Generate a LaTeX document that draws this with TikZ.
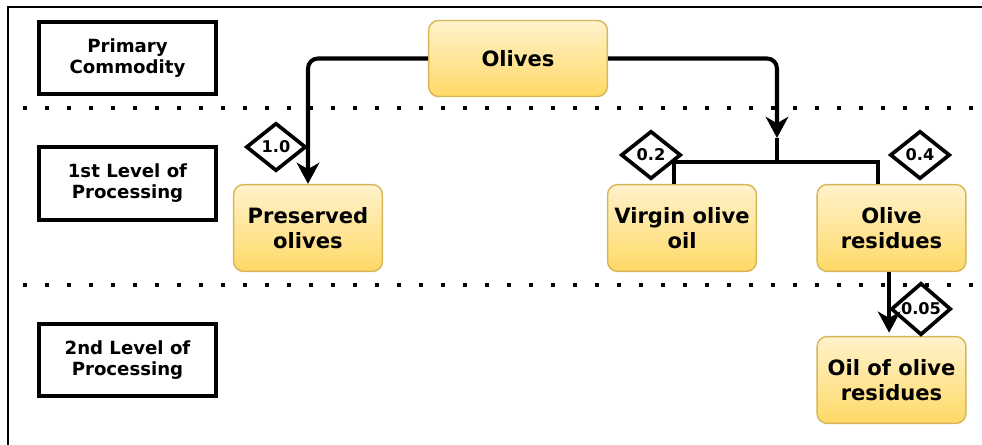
\documentclass[tikz,border=0pt]{standalone}
\usepackage{fontspec}
\setmainfont{DejaVu Sans}
\usepackage{tikz}
\usetikzlibrary{shapes.geometric,arrows.meta}

\definecolor{olivetop}{HTML}{FFF2CC}
\definecolor{olivebottom}{HTML}{FFD966}
\definecolor{olivedge}{HTML}{D6B656}

\begin{document}
\begin{tikzpicture}[x=0.025cm,y=-0.025cm]
            \tikzstyle{level}=[draw=black,line width=2.85pt,fill=white,minimum width=4.43cm,minimum height=1.8cm,align=center,font=\fontsize{12.9}{15}\selectfont\bfseries]
            \tikzstyle{product}=[draw=olivedge,line width=1pt,rounded corners=0.25cm,top color=olivetop,bottom color=olivebottom,minimum width=3.72cm,minimum height=2.17cm,align=center,font=\fontsize{15}{17.8}\selectfont\bfseries]
            \tikzstyle{ratio}=[diamond,draw=black,line width=2.6pt,fill=white,inner sep=0pt,minimum width=1.5cm,minimum height=1.2cm,font=\fontsize{11.5}{13}\selectfont\bfseries]
            \tikzstyle{flow}=[line width=2.9pt]
            \tikzstyle{tip}=[-{Stealth[length=15pt,width=16pt,inset=4.5pt]}]
            \tikzstyle{separator}=[line width=2.85pt,dash pattern=on 2.85pt off 12.8pt]
            \useasboundingbox (0,0) rectangle (982,445);

            \draw[line width=1.6pt] (8,445) -- (8,7) -- (982,7);
            \draw[separator] (23,108) -- (975,108);
            \draw[separator] (23,285) -- (975,285);

            \foreach \name/\y/\txt in {primary/58/{Primary\\Commodity}, first/183.5/{1st Level of\\Processing}, second/360/{2nd Level of\\Processing}}
                    \node[level] (L-\name) at (127.5,\y) {\txt};

            \node[product,minimum width=4.47cm,minimum height=1.9cm] (olives) at (518,58.5) {Olives};
            \node[product] (preserved) at (308,228) {Preserved\\olives};
            \node[product] (virgin) at (682,228) {Virgin olive\\oil};
            \node[product] (residues) at (891.5,228) {Olive\\residues};
            \node[product] (oil) at (891.5,380) {Oil of olive\\residues};

            \foreach \name/\x/\y/\val in {pres/276/147/1.0, virgin/651/155/0.2, resid/920/155/0.4, oil/921/309/0.05}
                    \node[ratio] (R-\name) at (\x,\y) {\val};

            \coordinate (split) at (777,138);
            \coordinate (fork) at (777,162);

            \draw[flow,tip,rounded corners=0.25cm] (olives.west) -| (preserved.north);
            \draw[flow,tip,rounded corners=0.25cm] (olives.east) -| (split);
            \draw[flow] (split) -- (fork);
            \draw[flow] ([xshift=-0.2cm]virgin.north) |- (fork) -| ([xshift=-0.34cm]residues.north);
            \draw[flow,tip] ([xshift=-0.06cm]residues.south) -- ([xshift=-0.06cm,yshift=0.08cm]oil.north);
        \end{tikzpicture}
\end{document}
